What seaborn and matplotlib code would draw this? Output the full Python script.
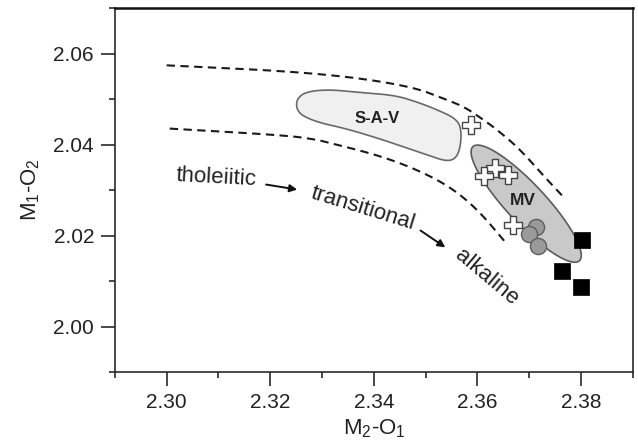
import numpy as np
import pandas as pd
import matplotlib
matplotlib.use("Agg")
import matplotlib.pyplot as plt
import seaborn as sns
from matplotlib.ticker import MultipleLocator, FormatStrFormatter

# ---------------- data ----------------
sq_x = [2.3802, 2.3763, 2.3800]
sq_y = [2.0191, 2.0123, 2.0086]

circ_x = [2.3712, 2.3700, 2.3717]
circ_y = [2.0218, 2.0204, 2.0178]

cross_x = [2.3588, 2.3633, 2.3613, 2.3658, 2.3669]
cross_y = [2.0442, 2.0349, 2.0330, 2.0332, 2.0224]

sav_x = [2.3252, 2.3269, 2.3313, 2.3377, 2.3442, 2.3487, 2.3525, 2.3558, 2.3569,
         2.3567, 2.3558, 2.3540, 2.3506, 2.3462, 2.3410, 2.3346, 2.3294, 2.3260, 2.3250]
sav_y = [2.0501, 2.0516, 2.0521, 2.0514, 2.0508, 2.0492, 2.0475, 2.0457, 2.0435,
         2.0393, 2.0369, 2.0363, 2.0376, 2.0393, 2.0413, 2.0435, 2.0448, 2.0464, 2.0481]

upper_x = [2.3000, 2.3288, 2.3467, 2.3544, 2.3577, 2.3608, 2.3635, 2.3679, 2.3731, 2.3769]
upper_y = [2.0574, 2.0558, 2.0530, 2.0497, 2.0481, 2.0457, 2.0435, 2.0393, 2.0327, 2.0281]

lower_x = [2.3006, 2.3231, 2.3288, 2.3313, 2.3410, 2.3487, 2.3550, 2.3602, 2.3654]
lower_y = [2.0435, 2.0420, 2.0411, 2.0404, 2.0376, 2.0343, 2.0305, 2.0255, 2.0185]

mv_center = (2.3694, 2.0270)   # MV field centre
xticks = [2.30, 2.32, 2.34, 2.36, 2.38]
yticks = [2.00, 2.02, 2.04, 2.06]

# ---------------- style ----------------
sns.set_style("ticks")
plt.rcParams['font.family'] = ['Liberation Sans', 'DejaVu Sans']
plt.rcParams['mathtext.fontset'] = 'custom'
plt.rcParams['mathtext.rm'] = 'Liberation Sans'
plt.rcParams['mathtext.it'] = 'Liberation Sans:italic'
plt.rcParams['mathtext.bf'] = 'Liberation Sans:bold'

DARK = '#2a2a2a'
fig = plt.figure(figsize=(6.38, 4.45), dpi=100)
ax = fig.add_axes([0.180, 0.164, 0.992 - 0.180, 0.982 - 0.164])
ax.set_xlim(2.29, 2.39)
ax.set_ylim(1.99, 2.07)


def chaikin(x, y, n=3, closed=False):
    p = np.column_stack([x, y]).astype(float)
    start, end = p[0].copy(), p[-1].copy()
    for _ in range(n):
        q = np.roll(p, -1, axis=0) if closed else p[1:]
        pp = p if closed else p[:-1]
        a = 0.75 * pp + 0.25 * q
        b = 0.25 * pp + 0.75 * q
        new = np.empty((2 * len(pp), 2))
        new[0::2] = a
        new[1::2] = b
        if not closed:
            new = np.vstack([start, new, end])
        p = new
    return p[:, 0], p[:, 1]


# S-A-V field
sx, sy = chaikin(sav_x, sav_y, 4, closed=True)
ax.fill(sx, sy, facecolor='#f0f0f0', edgecolor='#6a6a6a', lw=1.2, zorder=1)

# MV ellipse (defined in pixel-proportional units)
bbox = ax.get_window_extent()
ppx = bbox.width / (2.39 - 2.29)
ppy = bbox.height / (2.07 - 1.99)
t = np.linspace(0, 2 * np.pi, 200)
a_px, b_px, ang = 78.0, 19.5, np.deg2rad(-47)
u = a_px * np.cos(t)
v = b_px * np.sin(t)
ex = mv_center[0] + (u * np.cos(ang) - v * np.sin(ang)) / ppx
ey = mv_center[1] + (u * np.sin(ang) + v * np.cos(ang)) / ppy
ax.fill(ex, ey, facecolor='#c9c9c9', edgecolor='#5a5a5a', lw=1.2, zorder=1)

# dashed boundaries
for xs, ys in [(upper_x, upper_y), (lower_x, lower_y)]:
    cx, cy = chaikin(xs, ys, 3)
    ax.plot(cx, cy, color='#1a1a1a', lw=1.5, ls=(0, (4, 2.6)), zorder=2)

# points
sns.scatterplot(x=circ_x, y=circ_y, ax=ax, marker='o', s=135, color='#9a9a9a',
                edgecolor='#5e5e5e', linewidth=1.0, zorder=4, legend=False)
sns.scatterplot(x=cross_x, y=cross_y, ax=ax, marker='P', s=165, color='white',
                edgecolor='#444444', linewidth=1.0, zorder=5, legend=False)
sns.scatterplot(x=sq_x, y=sq_y, ax=ax, marker='s', s=130, color='black',
                edgecolor='black', linewidth=0.5, zorder=5, legend=False)

# labels of fields
ax.text(2.3406, 2.0457, 'S-A-V', ha='center', va='center', fontsize=12,
        fontweight='bold', color='#222222', zorder=6)
ax.text(2.3688, 2.0277, 'MV', ha='center', va='center', fontsize=12.5,
        fontweight='bold', color='#222222', zorder=6)

# series text
ax.text(2.3096, 2.0327, 'tholeiitic', ha='center', va='center', fontsize=16,
        rotation=-3, color='#222222')
ax.text(2.3379, 2.0259, 'transitional', ha='center', va='center', fontsize=16,
        rotation=-17, color='#222222')
ax.text(2.3617, 2.0108, 'alkaline', ha='center', va='center', fontsize=16,
        rotation=-40, color='#222222')
for (x0, y0), (x1, y1) in [((2.3192, 2.0312), (2.3252, 2.0301)),
                           ((2.3490, 2.0211), (2.3538, 2.0174))]:
    ax.annotate('', xy=(x1, y1), xytext=(x0, y0),
                arrowprops=dict(arrowstyle='-|>', color='#111111', lw=1.4,
                                mutation_scale=11, shrinkA=0, shrinkB=0))

# axes styling
ax.set_xticks(xticks)
ax.set_yticks(yticks)
ax.xaxis.set_major_formatter(FormatStrFormatter('%.2f'))
ax.yaxis.set_major_formatter(FormatStrFormatter('%.2f'))
ax.xaxis.set_minor_locator(MultipleLocator(0.01))
ax.yaxis.set_minor_locator(MultipleLocator(0.01))
ax.tick_params(which='major', direction='out', length=10, width=1.2, color=DARK,
               labelsize=15, labelcolor='#222222', pad=5)
ax.tick_params(which='minor', direction='out', length=4.5, width=1.2, color=DARK)
ax.tick_params(top=False, right=False, which='both')
for sp in ax.spines.values():
    sp.set_visible(True)
    sp.set_color(DARK)
    sp.set_linewidth(1.2)
ax.spines['top'].set_linewidth(1.8)
ax.spines['top'].set_color('#111111')

ax.set_xlabel(r'M$_2$-O$_1$', fontsize=16, color='#222222', labelpad=4)
ax.set_ylabel(r'M$_1$-O$_2$', fontsize=16, color='#222222', labelpad=8)

fig.savefig('out.png', dpi=100)
